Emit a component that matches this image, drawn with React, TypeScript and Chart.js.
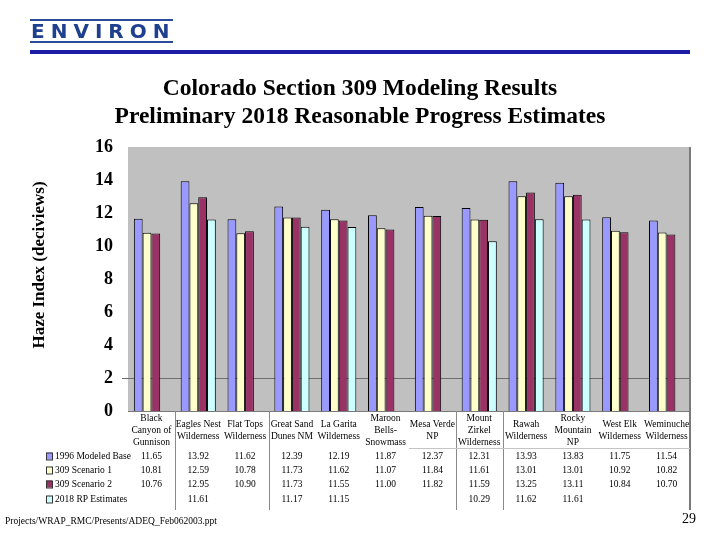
import React, { useEffect, useRef } from "react";
import { Chart, registerables } from "chart.js";

Chart.register(...registerables);

// ---------- data ----------
const categories: string[][] = [
  ["Black", "Canyon of", "Gunnison"],
  ["Eagles Nest", "Wilderness"],
  ["Flat Tops", "Wilderness"],
  ["Great Sand", "Dunes NM"],
  ["La Garita", "Wilderness"],
  ["Maroon", "Bells-", "Snowmass"],
  ["Mesa Verde", "NP"],
  ["Mount", "Zirkel", "Wilderness"],
  ["Rawah", "Wilderness"],
  ["Rocky", "Mountain", "NP"],
  ["West Elk", "Wilderness"],
  ["Weminuche", "Wilderness"],
];
const seriesNames = ["1996 Modeled Base", "309 Scenario 1", "309 Scenario 2", "2018 RP Estimates"];
const base1996 = [11.65, 13.92, 11.62, 12.39, 12.19, 11.87, 12.37, 12.31, 13.93, 13.83, 11.75, 11.54];
const scenario1 = [10.81, 12.59, 10.78, 11.73, 11.62, 11.07, 11.84, 11.61, 13.01, 13.01, 10.92, 10.82];
const scenario2 = [10.76, 12.95, 10.9, 11.73, 11.55, 11.0, 11.82, 11.59, 13.25, 13.11, 10.84, 10.7];
const rpEstimates: (number | null)[] = [null, 11.61, null, 11.17, 11.15, null, null, 10.29, 11.62, 11.61, null, null];
const seriesColors = ["#9999FF", "#FFFFCC", "#993366", "#CCFFFF"];
const yMin = 0;
const yMax = 16;
const yStep = 2;
const referenceLevel = 2;
const tableDividers = [1, 3, 7, 8]; // category boundaries that carry a vertical rule
const yTitle = "Haze Index (deciviews)";
const titleLines = ["Colorado Section 309 Modeling Results", "Preliminary 2018 Reasonable Progress Estimates"];
const footerText = "Projects/WRAP_RMC/Presents/ADEQ_Feb062003.ppt";
const pageNumber = "29";

const SERIF = '"Liberation Serif", "Times New Roman", serif';

const allSeries = [base1996, scenario1, scenario2, rpEstimates];

const tablePlugin = {
  id: "tablePlugin",
  beforeDraw(chart: any) {
    const { ctx, chartArea } = chart;
    ctx.save();
    ctx.fillStyle = "#C0C0C0";
    ctx.fillRect(chartArea.left, chartArea.top, chartArea.right - chartArea.left, chartArea.bottom - chartArea.top);
    ctx.restore();
  },
  beforeDatasetsDraw(chart: any) {
    const { ctx, chartArea, scales } = chart;
    const y = Math.round(scales.y.getPixelForValue(referenceLevel)) + 0.5;
    ctx.save();
    ctx.strokeStyle = "#6E6E6E";
    ctx.lineWidth = 1;
    ctx.beginPath();
    ctx.moveTo(chartArea.left - 6, y);
    ctx.lineTo(chartArea.right, y);
    ctx.stroke();
    ctx.restore();
  },
  afterDraw(chart: any) {
    const { ctx, chartArea, scales } = chart;
    const xs = scales.x;
    const rowsY = [456, 470, 484, 499];
    const tableBottom = 510;
    ctx.save();
    // bottom border of plot
    ctx.strokeStyle = "#7A7A7A";
    ctx.lineWidth = 1;
    ctx.beginPath();
    ctx.moveTo(chartArea.left, chartArea.bottom + 0.5);
    ctx.lineTo(chartArea.right, chartArea.bottom + 0.5);
    ctx.stroke();
    // right border
    ctx.strokeStyle = "#7A7A7A";
    ctx.lineWidth = 2;
    ctx.beginPath();
    ctx.moveTo(chartArea.right, chartArea.top);
    ctx.lineTo(chartArea.right, tableBottom);
    ctx.stroke();
    // dividers
    const half = (xs.getPixelForValue(1) - xs.getPixelForValue(0)) / 2;
    ctx.lineWidth = 1;
    ctx.strokeStyle = "#8A8A8A";
    tableDividers.forEach((d) => {
      const x = Math.round(xs.getPixelForValue(d) - half) + 0.5;
      ctx.beginPath();
      ctx.moveTo(x, chartArea.bottom);
      ctx.lineTo(x, tableBottom);
      ctx.stroke();
    });
    // header separator (right part)
    ctx.strokeStyle = "#C4C4C4";
    ctx.beginPath();
    ctx.moveTo(xs.getPixelForValue(6) - half, 448.5);
    ctx.lineTo(chartArea.right, 448.5);
    ctx.stroke();

    // legend + values
    ctx.font = `9.5px ${SERIF}`;
    ctx.textBaseline = "middle";
    allSeries.forEach((series, s) => {
      const y = rowsY[s];
      ctx.fillStyle = seriesColors[s];
      ctx.fillRect(46, y - 3.5, 6, 7);
      ctx.strokeStyle = "#333";
      ctx.lineWidth = 1;
      ctx.strokeRect(46.5, y - 3, 6, 7);
      ctx.fillStyle = "#000";
      ctx.textAlign = "left";
      ctx.fillText(seriesNames[s], 55, y);
      ctx.textAlign = "center";
      series.forEach((v, i) => {
        if (v === null || v === undefined) return;
        ctx.fillText((v as number).toFixed(2), xs.getPixelForValue(i), y);
      });
    });

    // y axis title
    ctx.translate(40, 265);
    ctx.rotate(-Math.PI / 2);
    ctx.font = `bold 17px ${SERIF}`;
    ctx.textAlign = "center";
    ctx.textBaseline = "middle";
    ctx.fillStyle = "#000";
    ctx.fillText(yTitle, 0, 0);
    ctx.restore();
  },
};

function ChartCanvas() {
  const ref = useRef<HTMLCanvasElement | null>(null);
  useEffect(() => {
    if (!ref.current) return;
    const chart = new Chart(ref.current, {
      type: "bar",
      data: {
        labels: categories,
        datasets: allSeries.map((data, s) => ({
          label: seriesNames[s],
          data: data as any,
          backgroundColor: seriesColors[s],
          borderColor: "#000",
          borderWidth: 1,
          barPercentage: 1,
          categoryPercentage: 0.75,
        })),
      },
      options: {
        responsive: true,
        maintainAspectRatio: false,
        animation: false,
        layout: { padding: { top: 147, right: 30, left: 0, bottom: 0 } },
        plugins: {
          legend: { display: false },
          title: { display: false },
          tooltip: { enabled: false },
        },
        scales: {
          x: {
            grid: { display: false, drawTicks: false },
            border: { display: false },
            ticks: {
              font: { family: SERIF, size: 9.5, lineHeight: 1.3 },
              color: "#000",
              padding: 7,
              autoSkip: false,
              maxRotation: 0,
              minRotation: 0,
              crossAlign: "center",
            },
            afterFit: (scale: any) => {
              scale.height = 129;
            },
          },
          y: {
            min: yMin,
            max: yMax,
            grid: { display: false, drawTicks: false },
            border: { display: false },
            ticks: {
              stepSize: yStep,
              font: { family: SERIF, size: 18, weight: "bold" },
              color: "#000",
              padding: 15,
            },
            afterFit: (scale: any) => {
              scale.width = 128;
            },
          },
        },
      },
      plugins: [tablePlugin],
    } as any);
    return () => chart.destroy();
  }, []);
  return <canvas ref={ref} />;
}

export default function App() {
  return (
    <div style={{ position: "absolute", left: 0, top: 0, width: 720, height: 540, background: "#fff", overflow: "hidden" }}>
      <div style={{ position: "absolute", left: 0, top: 0, width: 720, height: 540 }}>
        <ChartCanvas />
      </div>
      {/* logo */}
      <div
        style={{
          position: "absolute",
          left: 30,
          top: 19,
          width: 142,
          height: 20,
          borderTop: "2px solid #2A4A9A",
          borderBottom: "2px solid #2A4A9A",
          color: "#1F3F8F",
          fontFamily: '"DejaVu Sans", sans-serif',
          fontSize: 20,
          fontWeight: 600,
          lineHeight: "20px",
          letterSpacing: "6px",
          whiteSpace: "nowrap",
          paddingLeft: 1,
        }}
      >
        ENVIRON
      </div>
      <div style={{ position: "absolute", left: 30, top: 50, width: 660, height: 4, background: "#1C1CA6" }} />
      {/* title */}
      <div
        style={{
          position: "absolute",
          left: 0,
          top: 73,
          width: 720,
          textAlign: "center",
          fontFamily: SERIF,
          fontWeight: "bold",
          fontSize: 23.5,
          lineHeight: "28px",
          color: "#000",
        }}
      >
        {titleLines.map((t) => (
          <div key={t}>{t}</div>
        ))}
      </div>
      {/* footer */}
      <div style={{ position: "absolute", left: 5, top: 516, fontFamily: SERIF, fontSize: 9.5, color: "#000", whiteSpace: "nowrap" }}>
        {footerText}
      </div>
      <div style={{ position: "absolute", left: 682, top: 511, fontFamily: SERIF, fontSize: 14, color: "#000" }}>{pageNumber}</div>
    </div>
  );
}
